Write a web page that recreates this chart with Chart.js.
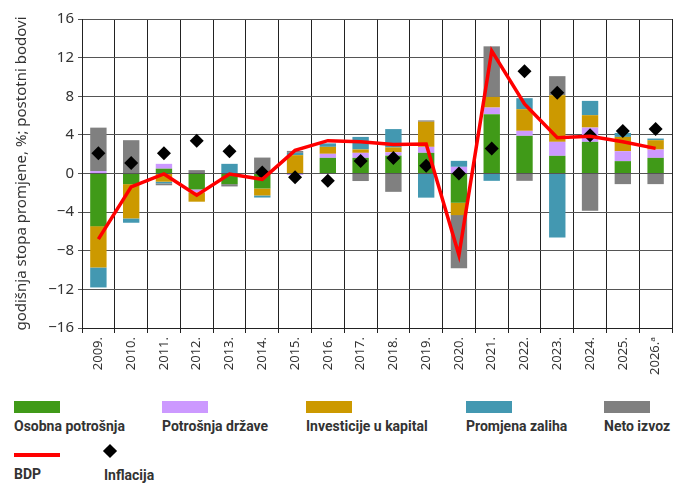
<!DOCTYPE html>
<html>
<head>
<meta charset="utf-8">
<script src="https://cdn.jsdelivr.net/npm/chart.js@4"></script>
<style>
  body { margin: 0; background: #fff; }
  #wrap { position: relative; width: 688px; height: 484px; }
  #chart { position: absolute; left: 0; top: 0; }
  .leg { position: absolute; font-family: Roboto, "Noto Sans", sans-serif; font-weight: 700; font-size: 14px; color: #333; white-space: nowrap; }
  .leg .sw { width: 46px; height: 12px; }
  .leg .txt { margin-top: 5px; }
</style>
</head>
<body>
<div id="wrap">
  <canvas id="chart" width="688" height="390"></canvas>
  <div id="legend"></div>
</div>
<script>
var years = ['2009.', '2010.', '2011.', '2012.', '2013.', '2014.', '2015.', '2016.', '2017.',
    '2018.', '2019.', '2020.', '2021.', '2022.', '2023.', '2024.', '2025.', '2026.ᵃ'];

var osobnaPotrosnja = [-5.45, -1.1, 0.5, -1.65, -1.1, -1.55, 0, 1.62, 1.62, 1.85, 2.14, -3.03, 6.14, 3.9, 1.83, 3.28, 1.28, 1.62];
var potrosnjaDrzave = [0.25, 0, 0.5, -0.3, 0, 0, -0.15, 0.42, 0.52, 0.35, 0.62, 0.69, 0.69, 0.52, 1.45, 1.48, 1.03, 0.86];
var investicije = [-4.28, -3.55, -0.85, -0.97, 0, -0.72, 1.9, 0.72, 0.35, 0.5, 2.6, -1.28, 1.1, 2.24, 4.83, 1.28, 1.48, 0.97];
var promjenaZaliha = [-2.07, -0.45, -0.17, 0, 1.0, -0.22, 0.24, 0.36, 1.3, 1.9, -2.5, 0.62, -0.76, 1.14, -6.62, 1.48, 0.41, 0.17];
var netoIzvoz = [4.5, 3.45, -0.2, 0.35, -0.24, 1.65, 0.2, 0, -0.78, -1.9, 0.14, -5.5, 5.24, -0.76, 1.97, -3.86, -1.1, -1.1];
var bdp = [-6.8, -1.38, -0.05, -2.24, -0.05, -0.6, 2.4, 3.4, 3.3, 3.0, 3.05, -8.45, 12.7, 7.2, 3.7, 3.86, 3.28, 2.6];
var inflacija = [2.1, 1.1, 2.1, 3.4, 2.3, 0.1, -0.4, -0.75, 1.3, 1.6, 0.8, 0.0, 2.6, 10.6, 8.35, 3.95, 4.4, 4.6];

var yTicks = [-16, -12, -8, -4, 0, 4, 8, 12, 16];

function barSet(label, data, color, order) {
    return {
        type: 'bar',
        label: label,
        data: data,
        backgroundColor: color,
        borderWidth: 0,
        stack: 'bdp-doprinosi',
        order: order,
        barPercentage: 0.5,
        categoryPercentage: 1
    };
}

var datasets = [
    barSet('Osobna potrošnja', osobnaPotrosnja, '#409a18', 2),
    barSet('Potrošnja države', potrosnjaDrzave, '#cc99ff', 3),
    barSet('Investicije u kapital', investicije, '#cc9900', 4),
    barSet('Promjena zaliha', promjenaZaliha, '#4398b1', 5),
    barSet('Neto izvoz', netoIzvoz, '#808080', 6),
    {
        type: 'line',
        label: 'BDP',
        data: bdp,
        borderColor: '#ff0000',
        borderWidth: 3.5,
        pointRadius: 0,
        tension: 0,
        stack: 'bdp',
        order: 0
    },
    {
        type: 'line',
        label: 'Inflacija',
        data: inflacija,
        showLine: false,
        pointStyle: 'rectRot',
        pointRadius: 7,
        pointBackgroundColor: '#000',
        pointBorderColor: '#000',
        pointBorderWidth: 0,
        stack: 'inflacija',
        order: 1
    }
];

var chart = new Chart(document.getElementById('chart'), {
    data: {labels: years, datasets: datasets},
    options: {
        responsive: false,
        animation: false,
        events: [],
        layout: {padding: {top: 19, right: 16, left: 0, bottom: 0}},
        plugins: {
            legend: {display: false},
            tooltip: {enabled: false}
        },
        scales: {
            x: {
                stacked: true,
                offset: true,
                grid: {color: '#222', lineWidth: 1, offset: true, tickLength: 5},
                border: {color: '#222', width: 1},
                ticks: {
                    color: '#333',
                    font: {family: 'Noto Sans', size: 13},
                    maxRotation: 90,
                    minRotation: 90,
                    autoSkip: false,
                    padding: 4
                },
                afterFit: function (scale) { scale.height = 62; }
            },
            y: {
                stacked: true,
                min: -16,
                max: 16,
                afterBuildTicks: function (scale) {
                    scale.ticks = yTicks.map(function (v) { return {value: v}; });
                },
                grid: {color: '#555', lineWidth: 1, tickLength: 4},
                border: {color: '#222', width: 1},
                ticks: {
                    color: '#333',
                    font: {family: 'Noto Sans', size: 15},
                    padding: 4,
                    callback: function (v) { return String(v).replace('-', '\u2212'); }
                },
                title: {
                    display: true,
                    text: 'godišnja stopa promjene, %; postotni bodovi',
                    color: '#333',
                    font: {family: 'Noto Sans', size: 15},
                    padding: {top: 13, bottom: 4}
                },
                afterFit: function (scale) { scale.width = 82; }
            }
        }
    }
});

// legenda: kvadrat iznad teksta, kao u izvorniku
var legendPos = [
    [14, 401], [162, 401], [306, 401], [466, 401], [604, 401],
    [14, 451], [104, 444]
];
var legendBox = document.getElementById('legend');
chart.data.datasets.forEach(function (ds, i) {
    var item = document.createElement('div');
    item.className = 'leg';
    item.style.left = legendPos[i][0] + 'px';
    item.style.top = legendPos[i][1] + 'px';
    var sw = document.createElement('div');
    sw.className = 'sw';
    if (ds.type === 'bar') {
        sw.style.background = ds.backgroundColor;
    } else if (ds.showLine === false) {
        sw.style.width = '14px';
        sw.style.height = '14px';
        sw.style.position = 'relative';
        sw.style.left = '-1px';
        sw.innerHTML = '<div style="position:absolute;left:2px;top:2px;width:10px;height:10px;background:#000;transform:rotate(45deg)"></div>';
    } else {
        sw.style.height = '4px';
        sw.style.marginTop = '2px';
        sw.style.background = ds.borderColor;
    }
    var txt = document.createElement('div');
    txt.className = 'txt';
    txt.textContent = ds.label;
    if (ds.type !== 'bar') txt.style.marginTop = ds.showLine === false ? '9px' : '9px';
    item.appendChild(sw);
    item.appendChild(txt);
    legendBox.appendChild(item);
});
</script>
</body>
</html>
